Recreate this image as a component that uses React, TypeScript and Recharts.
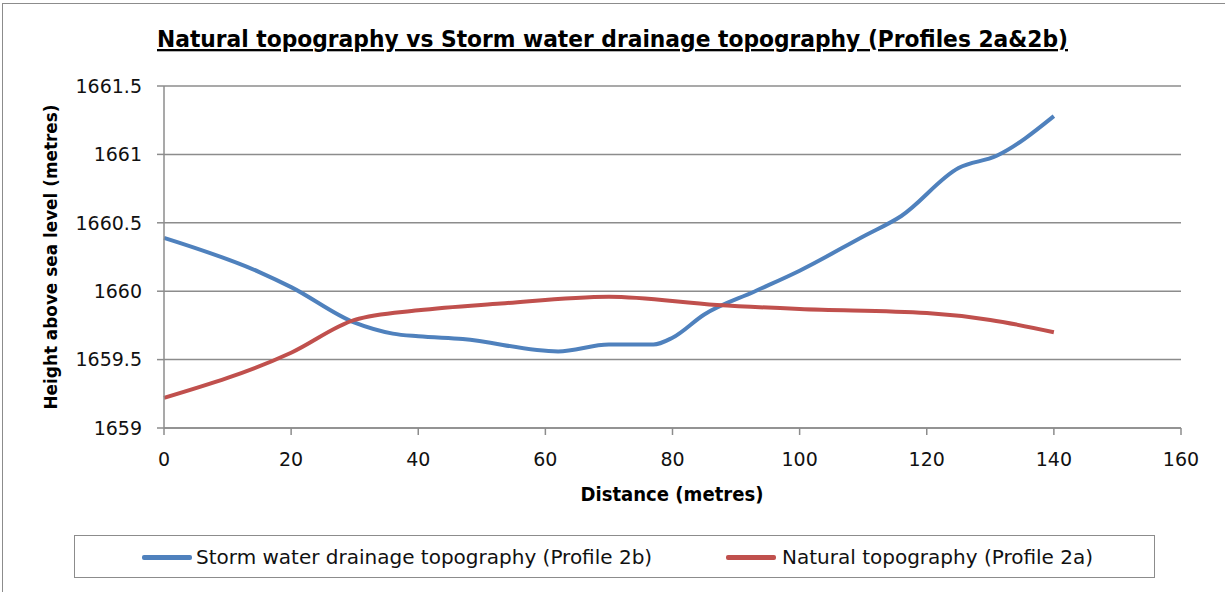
import React from "react"
import { LineChart, Line, XAxis, YAxis, CartesianGrid, Label } from "recharts"

const xTicks = [0, 20, 40, 60, 80, 100, 120, 140, 160]
const yTicks = [1659, 1659.5, 1660, 1660.5, 1661, 1661.5]

// Profile 2b (storm water drainage)
const stormDistance = [0, 15, 20, 30, 36, 40, 47, 62, 70, 77, 80, 85, 93, 100, 110, 116, 125, 131, 140]
const stormHeight = [
  1660.39, 1660.14, 1660.03, 1659.77, 1659.69, 1659.67, 1659.65, 1659.56, 1659.61, 1659.61, 1659.66,
  1659.83, 1660.0, 1660.15, 1660.4, 1660.55, 1660.9, 1660.99, 1661.28,
]

// Profile 2a (natural)
const naturalDistance = [0, 20, 30, 40, 53, 70, 87, 100, 120, 130, 140]
const naturalHeight = [1659.22, 1659.55, 1659.79, 1659.86, 1659.91, 1659.96, 1659.9, 1659.87, 1659.84, 1659.79, 1659.7]

const stormData = stormDistance.map((d, i) => ({ d, h: stormHeight[i] }))
const naturalData = naturalDistance.map((d, i) => ({ d, h: naturalHeight[i] }))

const BLUE = "#4f81bd"
const RED = "#c0504d"
const GREY = "#8c8c8c"
const FONT = "'DejaVu Sans', sans-serif"

export default function App() {
  return (
    <div
      style={{
        position: "absolute",
        left: 0,
        top: 0,
        width: 1225,
        height: 592,
        overflow: "hidden",
        background: "#fff",
        fontFamily: FONT,
      }}
    >
      <div
        style={{
          position: "absolute",
          left: 2,
          top: 3,
          width: 1300,
          height: 700,
          border: `1.5px solid ${GREY}`,
        }}
      />
      <svg style={{ position: "absolute", left: 0, top: 0 }} width={1225} height={60}>
        <text
          x={157}
          y={47}
          textLength={911}
          lengthAdjust="spacingAndGlyphs"
          fontFamily={FONT}
          fontWeight="bold"
          fontSize={23}
          fill="#000"
          textDecoration="underline"
        >
          Natural topography vs Storm water drainage topography (Profiles 2a&amp;2b)
        </text>
      </svg>
      <div style={{ position: "absolute", left: 0, top: 0 }}>
        <LineChart width={1225} height={592} margin={{ top: 86, right: 44, left: 64, bottom: 104 }}>
          <CartesianGrid vertical={false} stroke={GREY} strokeWidth={1.5} />
          <XAxis
            type="number"
            dataKey="d"
            domain={[0, 160]}
            ticks={xTicks}
            height={60}
            stroke={GREY}
            strokeWidth={1.5}
            tickSize={7}
            tickMargin={18}
            tick={{ fill: "#111", fontSize: 19, fontFamily: FONT }}
            allowDuplicatedCategory={false}
          >
            <Label
              content={() => (
                <text
                  x={672}
                  y={501}
                  textAnchor="middle"
                  textLength={183}
                  lengthAdjust="spacingAndGlyphs"
                  fontFamily={FONT}
                  fontWeight="bold"
                  fontSize={19}
                  fill="#000"
                >
                  Distance (metres)
                </text>
              )}
            />
          </XAxis>
          <YAxis
            type="number"
            domain={[1659, 1661.5]}
            ticks={yTicks}
            width={100}
            stroke={GREY}
            strokeWidth={1.5}
            tickSize={7}
            tickMargin={15}
            tick={{ fill: "#111", fontSize: 19, fontFamily: FONT }}
          >
            <Label
              content={() => (
                <text
                  x={57}
                  y={257}
                  transform="rotate(-90 57 257)"
                  textAnchor="middle"
                  textLength={305}
                  lengthAdjust="spacingAndGlyphs"
                  fontFamily={FONT}
                  fontWeight="bold"
                  fontSize={17}
                  fill="#000"
                >
                  Height above sea level (metres)
                </text>
              )}
            />
          </YAxis>
          <Line
            data={stormData}
            dataKey="h"
            type="monotone"
            stroke={BLUE}
            strokeWidth={4}
            dot={false}
            isAnimationActive={false}
          />
          <Line
            data={naturalData}
            dataKey="h"
            type="monotone"
            stroke={RED}
            strokeWidth={4}
            dot={false}
            isAnimationActive={false}
          />
        </LineChart>
      </div>
      <div
        style={{
          position: "absolute",
          left: 74,
          top: 535,
          width: 1081,
          height: 43,
          border: `1.5px solid ${GREY}`,
          boxSizing: "border-box",
          fontSize: 20,
          color: "#111",
        }}
      >
        <div style={{ position: "absolute", left: 67, top: 19, width: 50, height: 5, background: BLUE, borderRadius: 2 }} />
        <div style={{ position: "absolute", left: 121, top: 9, whiteSpace: "nowrap", lineHeight: "24px" }}>
          Storm water drainage topography (Profile 2b)
        </div>
        <div style={{ position: "absolute", left: 651, top: 19, width: 50, height: 5, background: RED, borderRadius: 2 }} />
        <div style={{ position: "absolute", left: 707, top: 9, whiteSpace: "nowrap", lineHeight: "24px" }}>
          Natural topography (Profile 2a)
        </div>
      </div>
    </div>
  )
}
